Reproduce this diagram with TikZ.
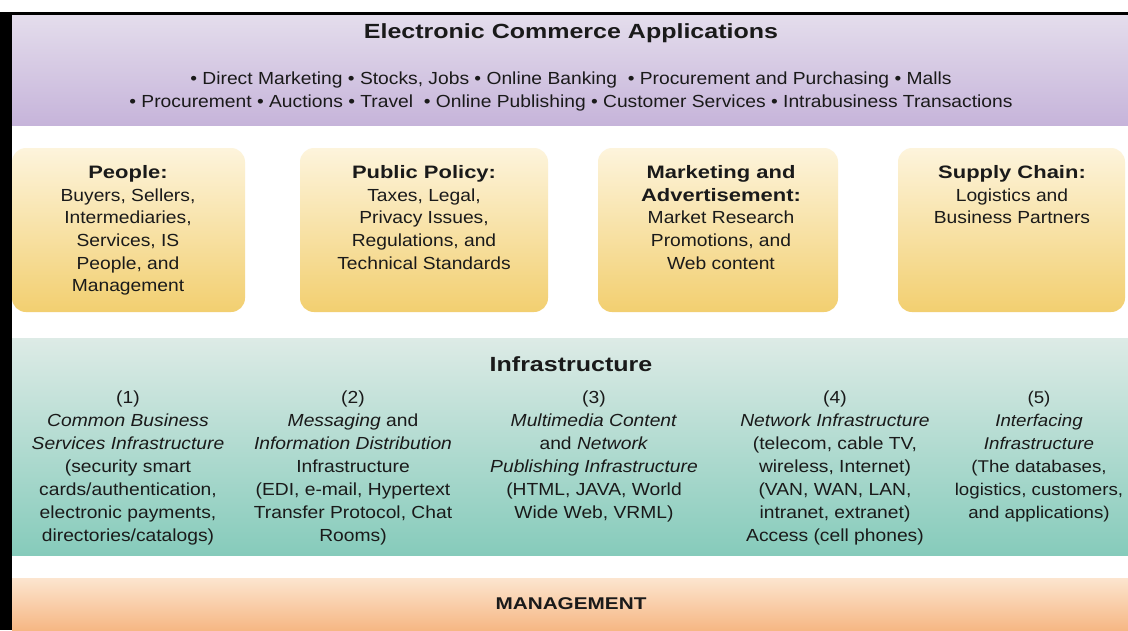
\documentclass[tikz,border=0pt]{standalone}
\usepackage{fontspec}
\setmainfont{Liberation Sans}[FakeStretch=1.1]
\newfontfamily\boldwide{Liberation Sans Bold}[FakeStretch=1.22]
\definecolor{ptop}{HTML}{E4DDEC}
\definecolor{pbot}{HTML}{C6B4DA}
\definecolor{ytop}{HTML}{FDF4DC}
\definecolor{ybot}{HTML}{F2CF70}
\definecolor{ttop}{HTML}{DDEBE6}
\definecolor{tbot}{HTML}{86CBBB}
\definecolor{otop}{HTML}{FCE5CF}
\definecolor{obot}{HTML}{F6B784}
\definecolor{ink}{HTML}{1A1A1A}
\newcommand\bodyfont{\fontsize{17.5}{23}\selectfont}
\newcommand\boxfont{\fontsize{17.5}{22.6}\selectfont}
\newcommand\titlefont{\fontsize{20.5}{24}\selectfont\boldwide}
\newcommand\hb[1]{{\fontsize{18}{22.6}\selectfont\boldwide #1}}
\begin{document}
\begin{tikzpicture}[x=1pt,y=-1pt,
  txt/.style={inner sep=0pt, align=center, font=\bodyfont, text=ink},
  btxt/.style={txt, font=\boxfont},
  ttl/.style={inner sep=0pt, align=center, font=\titlefont, text=ink},
  ybox/.style={rounded corners=14pt, top color=ytop, bottom color=ybot},
]
\useasboundingbox (0,0) rectangle (1128,630);
\fill[white] (0,0) rectangle (1128,630);
% bands
\path[top color=ptop, bottom color=pbot] (12,15) rectangle (1128,125);
\path[ybox] (12,148) rectangle (245,312);
\path[ybox] (300,148) rectangle (548,312);
\path[ybox] (598,148) rectangle (838,312);
\path[ybox] (898,148) rectangle (1125,312);
\path[top color=ttop, bottom color=tbot] (12,338) rectangle (1128,555);
\path[top color=otop, bottom color=obot] (12,578) rectangle (1128,630);
% frame
\fill[black] (0,12) rectangle (1128,15);
\fill[black] (0,12) rectangle (12,630);
% top band texts
\node[ttl] (title) at (571,33) {Electronic Commerce Applications};
\node[txt, anchor=north] (apps) at (571,71.5)
  {• Direct Marketing • Stocks, Jobs • Online Banking \ • Procurement and Purchasing • Malls\\
   • Procurement • Auctions • Travel \ • Online Publishing • Customer Services • Intrabusiness Transactions};
% boxes
\node[btxt, anchor=north] (people) at (128,165.5)
  {\hb{People:}\\Buyers, Sellers,\\Intermediaries,\\Services, IS\\People, and\\Management};
\node[btxt, anchor=north] (policy) at (424,165.5)
  {\hb{Public Policy:}\\Taxes, Legal,\\Privacy Issues,\\Regulations, and\\Technical Standards};
\node[btxt, anchor=north] (marketing) at (721,165.5)
  {\hb{Marketing and}\\\hb{Advertisement:}\\Market Research\\Promotions, and\\Web content};
\node[btxt, anchor=north] (supply) at (1012,165.5)
  {\hb{Supply Chain:}\\Logistics and\\Business Partners};
% infrastructure
\node[ttl] (infra) at (571,364) {Infrastructure};
\node[txt, anchor=north] (c1) at (128,390.5)
  {(1)\\\textit{Common Business}\\\textit{Services Infrastructure}\\(security smart\\cards/authentication,\\electronic payments,\\directories/catalogs)};
\node[txt, anchor=north] (c2) at (353,390.5)
  {(2)\\\textit{Messaging} and\\\textit{Information Distribution}\\Infrastructure\\(EDI, e-mail, Hypertext\\Transfer Protocol, Chat\\Rooms)};
\node[txt, anchor=north] (c3) at (594,390.5)
  {(3)\\\textit{Multimedia Content}\\and \textit{Network}\\\textit{Publishing Infrastructure}\\(HTML, JAVA, World\\Wide Web, VRML)};
\node[txt, anchor=north] (c4) at (835,390.5)
  {(4)\\\textit{Network Infrastructure}\\(telecom, cable TV,\\wireless, Internet)\\(VAN, WAN, LAN,\\intranet, extranet)\\Access (cell phones)};
\node[txt, anchor=north, font=\fontsize{17}{23}\selectfont] (c5) at (1039,390.5)
  {(5)\\\textit{Interfacing}\\\textit{Infrastructure}\\(The databases,\\logistics, customers,\\and applications)};
% management
\node[ttl, font=\fontsize{17}{20}\selectfont\boldwide] (mgmt) at (571,604) {MANAGEMENT};
\end{tikzpicture}
\end{document}
